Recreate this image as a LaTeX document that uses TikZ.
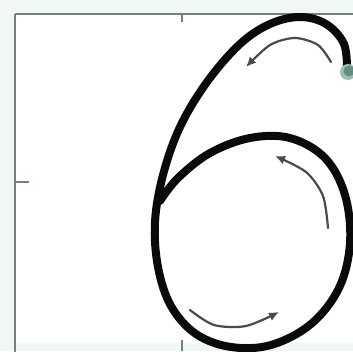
\documentclass[tikz,border=0pt]{standalone}
\usepackage{xcolor}
\usetikzlibrary{arrows.meta}
\definecolor{axgray}{HTML}{71837E}
\definecolor{pagetint}{HTML}{F1F7F5}
\definecolor{strokeblk}{HTML}{0A0A0A}
\definecolor{dirgray}{HTML}{4A4A4A}
\definecolor{startdot}{HTML}{5F8F82}

\begin{document}
\begin{tikzpicture}[
    x=1pt,y=-1pt,
    frm/.style  = {draw=axgray,line width=2.8pt},
    tck/.style  = {draw=axgray,line width=1.6pt},
    pen/.style  = {draw=strokeblk,line width=8pt,line cap=round,line join=round},
    dir/.style  = {draw=dirgray,line width=2.2pt,line cap=round,
                   -{Latex[length=10pt,width=9pt]}},
  ]

  % page and axes box
  \fill[pagetint] (0,0) rectangle (353,351);
  \useasboundingbox (0,0) rectangle (353,351);
  \begin{scope}
    \clip (0,0) rectangle (353,351);
    \fill[white] (15,14) rectangle (360,343);
    \draw[frm] (15,14) -- (15,360);
    \draw[frm] (15,14) -- (360,14);
    \draw[tck] (182,14) -- (182,22);
    \draw[tck] (182,351) -- (182,340);
    \draw[tck] (15,182) -- (29,182);

    % the digit trace
    \draw[pen] plot[smooth,tension=0.6] coordinates {
      (347,72) (344,44) (326,24) (300,17) (270,24) (240,44) (207,82)
      (180,127) (163,175) (155,222) (158,267) (171,306) (196,334)
      (231,347) (271,345) (311,324) (339,288) (350,243) (345,195)
      (325,158) (290,138) (250,138) (210,153) (178,178) (160,201)};
    \fill[startdot!60!white] (348,72) circle (8);
    \fill[startdot] (349,71) circle (5.5);

    % direction of writing
    \draw[dir] plot[smooth] coordinates {
      (331,62) (318,45) (295,38) (270,45) (246,67)};
    \draw[dir] plot[smooth] coordinates {
      (328,228) (323,196) (306,172) (275,156)};
    \draw[dir] plot[smooth] coordinates {
      (190,310) (214,325) (246,326) (279,312)};
  \end{scope}

\end{tikzpicture}
\end{document}
